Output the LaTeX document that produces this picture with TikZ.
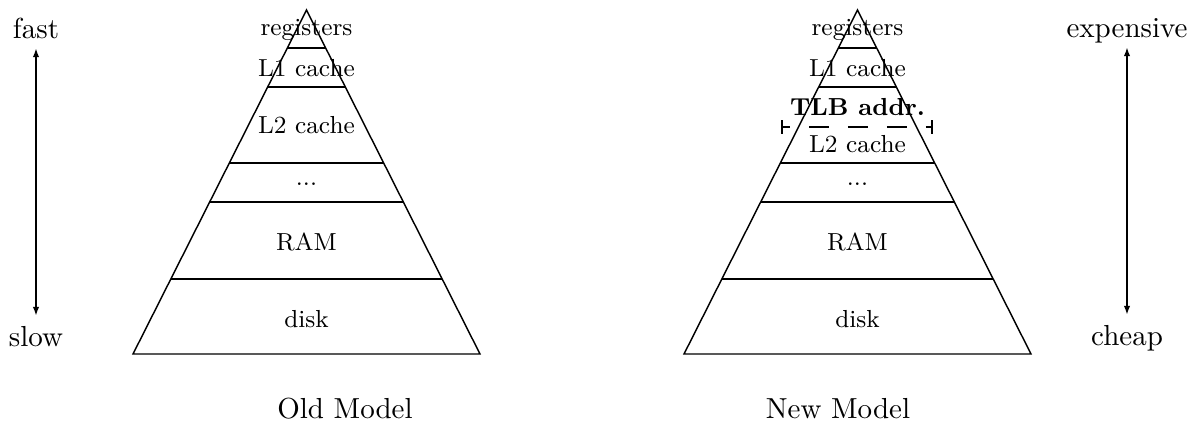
\documentclass[tikz,border=0pt]{standalone}
\usetikzlibrary{calc,arrows.meta}
\begin{document}
\begin{tikzpicture}[
x=0.345pt, y=-0.345pt,
line width=0.5pt,
level/.style={font=\fontsize{8.5}{10}\selectfont, anchor=base},
side/.style={font=\normalsize, anchor=base, text height=6.9pt, text depth=0pt},
scalearrow/.style={{Latex[length=3pt,width=2.2pt]}-{Latex[length=3pt,width=2.2pt]}}
]
\useasboundingbox (0,0) rectangle (1200,433);

% two pyramids
\foreach \m/\c in {old/306.5, new/857.5} {
  \coordinate (\m top) at (\c,10);
  \coordinate (\m bl) at (\c-173.5,354);
  \coordinate (\m br) at (\c+173.5,354);
  \draw (\m top) -- (\m bl) -- (\m br) -- cycle;
  \foreach \t in {0.1105,0.2238,0.4448,0.5581,0.782}
    \draw ($(\m top)!\t!(\m bl)$) -- ($(\m top)!\t!(\m br)$);
}

% old model
\node[level] (oldreg) at (306.5,35) {registers};
\node[level] (oldlone) at (306.5,76) {L1 cache};
\node[level] (oldltwo) at (306.5,133) {L2 cache};
\node[level] (olddots) at (306.5,185) {...};
\node[level] (oldram) at (306.5,250) {RAM};
\node[level] (olddisk) at (306.5,327) {disk};

% new model
\node[level] (newreg) at (857.5,35) {registers};
\node[level] (newlone) at (857.5,76) {L1 cache};
\node[level] (newtlb) at (857.5,115) {\textbf{TLB addr.}};
\node[level] (newltwo) at (857.5,152) {L2 cache};
\node[level] (newdots) at (857.5,185) {...};
\node[level] (newram) at (857.5,250) {RAM};
\node[level] (newdisk) at (857.5,327) {disk};

\coordinate (tlbl) at (782,127);
\coordinate (tlbr) at (932,127);
\draw[dash pattern=on 6.9pt off 6.55pt, dash phase=4.14pt] (tlbl) -- (tlbr);
\draw (tlbl) ++(0,-7) -- ++(0,14);
\draw (tlbr) ++(0,-7) -- ++(0,14);

% speed and cost
\node[side] (fast) at (36,38) {fast};
\node[side] (slow) at (36,346) {slow};
\draw[scalearrow] (fast) -- (slow);
\node[side] (expensive) at (1127,37) {expensive};
\node[side] (cheap) at (1127,345) {cheap};
\draw[scalearrow] (expensive) -- (cheap);

% captions
\node[side] (oldcap) at (345,418) {Old Model};
\node[side] (newcap) at (838,418) {New Model};
\end{tikzpicture}
\end{document}
